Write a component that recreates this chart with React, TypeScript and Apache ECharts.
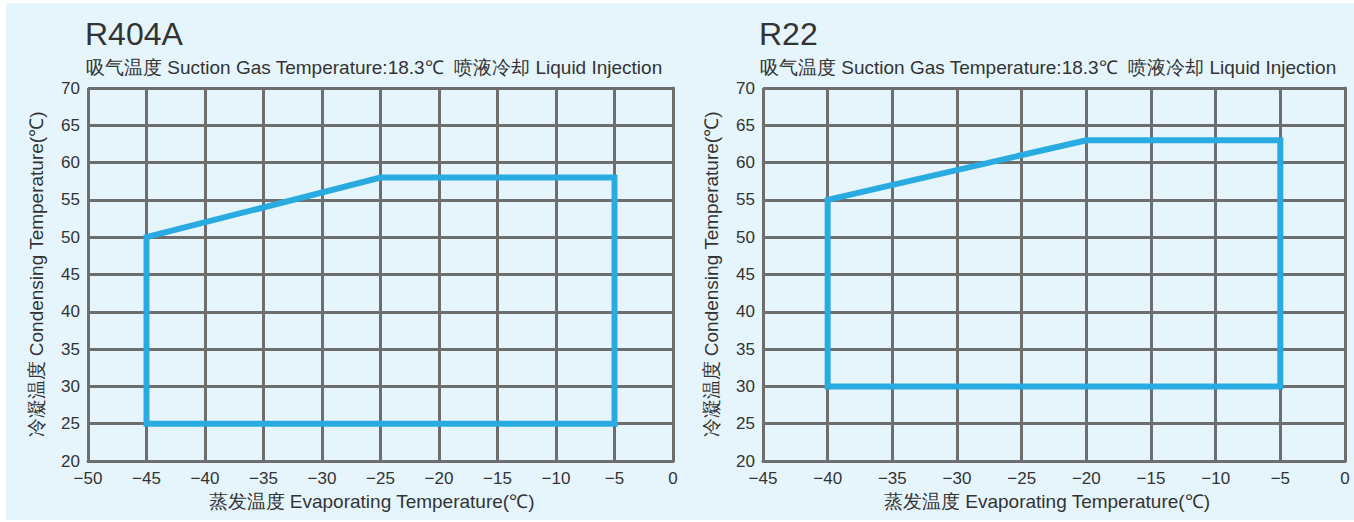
import React, { useEffect, useRef } from "react";
import * as echarts from "echarts";

const chartNames = ["R404A", "R22"];
const subtitle = "吸气温度 Suction Gas Temperature:18.3℃  喷液冷却 Liquid Injection";
const xAxisName = "蒸发温度 Evaporating Temperature(℃)";
const yAxisName = "冷凝温度 Condensing Temperature(℃)";

const xMinLeft = -50;
const xMinRight = -45;
const xMax = 0;
const yMin = 20;
const yMax = 70;
const tickStep = 5;

// envelope corner points [evaporating, condensing]
const r404aEvap = [-45, -45, -25, -5, -5, -45];
const r404aCond = [25, 50, 58, 58, 25, 25];
const r22Evap = [-40, -40, -20, -5, -5, -40];
const r22Cond = [30, 55, 63, 63, 30, 30];

const FONT = "'Liberation Sans', Arial, Helvetica, sans-serif";
const TEXT = "#333333";
const GRID = "#6e6e6e";
const BLUE = "#29abe2";

function zip(a: number[], b: number[]) {
  return a.map((v, i) => [v, b[i]]);
}

export default function App() {
  const ref = useRef<HTMLDivElement>(null);
  useEffect(() => {
    if (!ref.current) return;
    const chart = echarts.init(ref.current, undefined, { renderer: "svg" });
    const grids = [
      { left: 88, top: 88, width: 585, height: 373 },
      { left: 763, top: 88, width: 582, height: 373 },
    ];
    const mkX = (i: number, min: number) => ({
      type: "value",
      gridIndex: i,
      min,
      max: xMax,
      interval: tickStep,
      name: xAxisName,
      nameLocation: "middle",
      nameGap: 26,
      nameTextStyle: { color: TEXT, fontSize: 19, fontFamily: FONT, padding: [0, i === 0 ? 18 : 14, 0, 0] },
      axisLine: { show: true, lineStyle: { color: GRID, width: 3 } },
      axisTick: { show: false },
      axisLabel: {
        color: TEXT,
        fontSize: 17,
        fontFamily: FONT,
        margin: 9,
        formatter: (v: number) => String(v).replace("-", "\u2212"),
      },
      splitLine: { show: true, lineStyle: { color: GRID, width: 3 } },
    });
    const mkY = (i: number) => ({
      type: "value",
      gridIndex: i,
      min: yMin,
      max: yMax,
      interval: tickStep,
      name: yAxisName,
      nameLocation: "middle",
      nameGap: 42,
      nameRotate: 90,
      nameTextStyle: { color: TEXT, fontSize: 19, fontFamily: FONT },
      axisLine: { show: true, lineStyle: { color: GRID, width: 3 } },
      axisTick: { show: false },
      axisLabel: { color: TEXT, fontSize: 17, fontFamily: FONT, margin: 8 },
      splitLine: { show: true, lineStyle: { color: GRID, width: 3 } },
    });
    const mkSeries = (i: number, xs: number[], ys: number[]) => ({
      type: "line",
      xAxisIndex: i,
      yAxisIndex: i,
      data: zip(xs, ys),
      symbol: "none",
      lineStyle: { color: BLUE, width: 6, join: "miter", cap: "square" },
      z: 5,
    });
    chart.setOption({
      animation: false,
      backgroundColor: "#ffffff",
      graphic: [
        {
          type: "rect",
          shape: { x: 6, y: 3, width: 1348, height: 517 },
          style: { fill: "#e6f5fc" },
          z: -10,
          silent: true,
        },
      ],
      title: [
        { text: chartNames[0], left: 80, top: 13, textStyle: { color: TEXT, fontSize: 32, fontWeight: "normal", fontFamily: FONT } },
        { text: subtitle, left: 81, top: 53, textStyle: { color: TEXT, fontSize: 19, fontWeight: "normal", fontFamily: FONT } },
        { text: chartNames[1], left: 754, top: 13, textStyle: { color: TEXT, fontSize: 32, fontWeight: "normal", fontFamily: FONT } },
        { text: subtitle, left: 755, top: 53, textStyle: { color: TEXT, fontSize: 19, fontWeight: "normal", fontFamily: FONT } },
      ],
      grid: grids,
      xAxis: [mkX(0, xMinLeft), mkX(1, xMinRight)],
      yAxis: [mkY(0), mkY(1)],
      series: [mkSeries(0, r404aEvap, r404aCond), mkSeries(1, r22Evap, r22Cond)],
    });
    return () => chart.dispose();
  }, []);
  return (
    <div
      ref={ref}
      style={{ position: "fixed", left: 0, top: 0, width: 1354, height: 522 }}
    />
  );
}
